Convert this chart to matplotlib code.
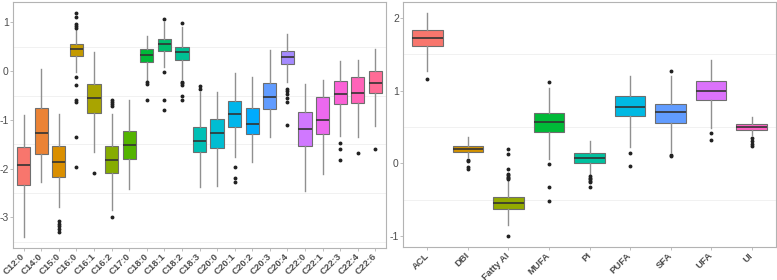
import numpy as np
import matplotlib
matplotlib.use("Agg")
import matplotlib.pyplot as plt

plt.rcParams['axes.unicode_minus'] = False
plt.rcParams['font.family'] = ['Liberation Sans', 'DejaVu Sans']

# ---------------- data: left panel (fatty acids) ----------------
left_names = ["C12:0", "C14:0", "C15:0", "C16:0", "C16:1", "C16:2", "C17:0",
              "C18:0", "C18:1", "C18:2", "C18:3", "C20:0", "C20:1", "C20:2",
              "C20:3", "C20:4", "C22:0", "C22:1", "C22:3", "C22:4", "C22:6"]
left_med = [-1.93, -1.26, -1.86, 0.457, -0.544, -1.83, -1.524,
            0.34, 0.558, 0.401, -1.435, -1.279, -0.871, -1.075,
            -0.524, 0.286, -1.197, -0.993, -0.463, -0.449, -0.252]
left_q1 = [-2.34, -1.707, -2.163, 0.306, -0.857, -2.082, -1.81,
           0.197, 0.408, 0.231, -1.653, -1.585, -1.15, -1.30,
           -0.782, 0.15, -1.537, -1.293, -0.667, -0.646, -0.456]
left_q3 = [-1.558, -0.748, -1.544, 0.551, -0.259, -1.537, -1.224,
           0.456, 0.66, 0.503, -1.156, -0.973, -0.619, -0.748,
           -0.238, 0.415, -0.837, -0.531, -0.197, -0.129, 0.007]
left_wlo = [-3.40, -2.265, -2.789, -0.02, -1.653, -2.857, -2.42,
            -0.19, 0.08, -0.17, -2.38, -2.367, -1.755, -1.857,
            -1.36, -0.224, -2.469, -2.116, -1.333, -1.361, -1.122]
left_whi = [-0.905, 0.048, -0.871, 0.845, 0.388, -0.884, -0.599,
            0.728, 1.0, 0.91, -0.429, -0.429, -0.04, -0.122,
            0.442, 0.762, -0.259, -0.177, 0.218, 0.238, 0.456]
left_out = [[], [], [-3.07, -3.13, -3.18, -3.25, -3.31],
            [1.19, 1.12, 0.967, 0.918, 0.886, -0.114, -0.278, -0.584, -0.63, -1.347, -1.959],
            [-2.095],
            [-0.60, -0.63, -0.67, -0.72, -3.0],
            [],
            [-0.22, -0.26, -0.60],
            [1.068, -0.007, -0.60, -0.80],
            [0.98, -0.22, -0.25, -0.29, -0.50, -0.60],
            [-0.31, -0.36],
            [],
            [-1.973, -2.197, -2.265],
            [], [],
            [-0.36, -0.41, -0.46, -0.56, -0.63, -1.11],
            [], [],
            [-1.469, -1.605, -1.823],
            [-1.673],
            [-1.605]]

# ---------------- data: right panel (indices) ----------------
right_names = ["ACL", "DBI", "Fatty AI", "MUFA", "PI", "PUFA", "SFA", "UFA", "UI"]
right_med = [1.726, 0.192, -0.542, 0.562, 0.068, 0.776, 0.699, 0.991, 0.495]
right_q1 = [1.621, 0.151, -0.623, 0.425, 0.008, 0.648, 0.557, 0.868, 0.454]
right_q3 = [1.836, 0.233, -0.464, 0.694, 0.136, 0.932, 0.817, 1.137, 0.536]
right_wlo = [1.269, 0.09, -0.851, 0.059, -0.173, 0.228, 0.16, 0.479, 0.395]
right_whi = [2.068, 0.356, -0.24, 1.041, 0.308, 1.196, 1.196, 1.416, 0.636]
right_out = [[1.16],
             [0.05, 0.03, -0.05, -0.08],
             [0.195, 0.123, -0.078, -0.146, -0.165, -0.185, -0.205, -0.22, -1.0],
             [1.114, -0.014, -0.324, -0.525],
             [-0.18, -0.20, -0.22, -0.24, -0.26, -0.333],
             [0.142, -0.037],
             [1.265, 0.119, 0.096],
             [0.42, 0.315],
             [0.341, 0.304, 0.259, 0.236]]


def hcl_to_rgb(h, c=100.0, l=65.0):
    hr = np.deg2rad(h)
    u = c * np.cos(hr)
    v = c * np.sin(hr)
    Xn, Yn, Zn = 95.047, 100.0, 108.883
    un = 4 * Xn / (Xn + 15 * Yn + 3 * Zn)
    vn = 9 * Yn / (Xn + 15 * Yn + 3 * Zn)
    Y = Yn * ((l + 16) / 116) ** 3 if l > 8 else Yn * l / 903.3
    up = u / (13 * l) + un
    vp = v / (13 * l) + vn
    X = Y * 9 * up / (4 * vp)
    Z = Y * (12 - 3 * up - 20 * vp) / (4 * vp)
    xyz = np.array([X, Y, Z]) / 100.0
    M = np.array([[3.2404542, -1.5371385, -0.4985314],
                  [-0.9692660, 1.8760108, 0.0415560],
                  [0.0556434, -0.2040259, 1.0572252]])
    rgb = M @ xyz
    out = []
    for ch in rgb:
        ch = 12.92 * ch if ch <= 0.0031308 else 1.055 * ch ** (1 / 2.4) - 0.055
        out.append(min(max(ch, 0), 1))
    return tuple(out)


def hue_pal(n):
    hues = np.linspace(15, 375, n + 1)[:n]
    return [hcl_to_rgb(h) for h in hues]


def draw(ax, names, med, q1, q3, wlo, whi, outs, ylim, yticks, minor):
    n = len(names)
    stats = []
    for i in range(n):
        stats.append(dict(med=med[i], q1=q1[i], q3=q3[i], whislo=wlo[i],
                          whishi=whi[i], fliers=outs[i], label=names[i]))
    cols = hue_pal(n)
    for y in minor:
        ax.axhline(y, color='#efefef', lw=0.6, zorder=0)
    bp = ax.bxp(stats, positions=np.arange(1, n + 1), widths=0.75,
                patch_artist=True, showcaps=False,
                boxprops=dict(edgecolor='#6e6e6e', linewidth=0.8),
                whiskerprops=dict(color='#909090', linewidth=1.0),
                medianprops=dict(color='#333333', linewidth=1.2),
                flierprops=dict(marker='o', markersize=1.8, markerfacecolor='#222222',
                                markeredgecolor='#222222', linestyle='none'))
    for patch, c in zip(bp['boxes'], cols):
        patch.set_facecolor(c)
    ax.set_xlim(0.4, n + 0.6)
    ax.set_ylim(*ylim)
    ax.set_yticks(yticks)
    ax.set_yticklabels([str(t) for t in yticks])
    ax.set_xticks(np.arange(1, n + 1))
    ax.set_xticklabels(names, rotation=45, ha='right', va='center',
                       rotation_mode='anchor',
                       fontsize=6.8, fontweight='bold', color='#4d4d4d')
    ax.tick_params(axis='y', labelsize=7.5, labelcolor='#4d4d4d', color='#b3b3b3',
                   length=2.0, width=0.6, pad=1.0)
    ax.tick_params(axis='x', color='#b3b3b3', length=2.0, width=0.6, pad=3.0)
    for s in ax.spines.values():
        s.set_color('#b3b3b3')
        s.set_linewidth(0.8)


fig = plt.figure(figsize=(7.77, 2.80), dpi=100)
ax1 = fig.add_axes([13 / 777, 1 - 248 / 280, (386 - 13) / 777, 246 / 280])
ax2 = fig.add_axes([403 / 777, 1 - 247 / 280, (776 - 403) / 777, 245 / 280])

draw(ax1, left_names, left_med, left_q1, left_q3, left_wlo, left_whi, left_out,
     (-3.63, 1.42), [-3, -2, -1, 0, 1], [-3.5, -2.5, -1.5, -0.5, 0.5])
draw(ax2, right_names, right_med, right_q1, right_q3, right_wlo, right_whi, right_out,
     (-1.153, 2.22), [-1, 0, 1, 2], [-0.5, 0.5, 1.5])

fig.savefig("out.png", dpi=100)
